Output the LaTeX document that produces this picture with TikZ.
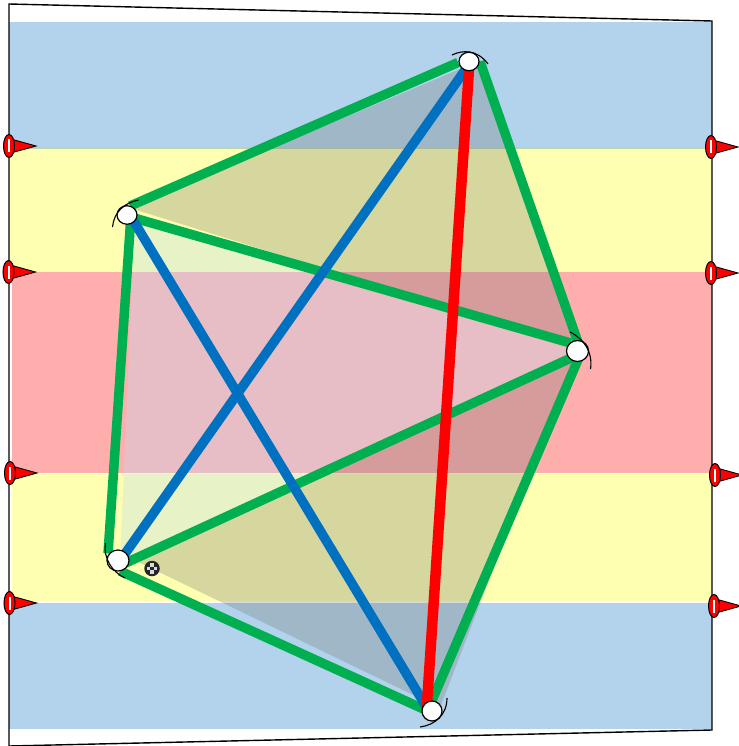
\documentclass[tikz,border=0pt]{standalone}
\usetikzlibrary{calc,shapes.geometric}
\pgfdeclarelayer{bands}
\pgfdeclarelayer{edges}
\pgfsetlayers{bands,edges,main}
\definecolor{bandblue}{RGB}{179,211,236}
\definecolor{bandyellow}{RGB}{255,255,178}
\definecolor{bandred}{RGB}{255,174,174}
\definecolor{bandline}{RGB}{186,214,172}
\definecolor{edgegreen}{RGB}{0,176,80}
\definecolor{edgeblue}{RGB}{0,112,192}
\definecolor{overdark}{RGB}{115,115,115}
\definecolor{overpale}{RGB}{189,220,240}
\tikzset{
  x=1pt,y=-1pt,
  vertexnode/.style={ellipse,draw=black,line width=1.2pt,fill=white,inner sep=0pt,minimum width=20pt,minimum height=18.5pt},
  greenedge/.style={draw=edgegreen,line width=9.5pt},
  blueedge/.style={draw=edgeblue,line width=9.5pt},
  rededge/.style={draw=red,line width=10.5pt},
  tick/.style={draw=black,line width=1.1pt},
  frameline/.style={draw=black,line width=1.4pt,line join=miter},
  darkfill/.style={fill=overdark,fill opacity=0.29},
  palefill/.style={fill=overpale,fill opacity=0.35},
  flagbase/.style={ellipse,draw=black,line width=1pt,fill=red,inner sep=0pt,minimum width=11pt,minimum height=23pt},
  flagtip/.style={draw=black,line width=0.9pt,fill=red,line join=miter},
  flagslit/.style={fill=white},
  pics/flag/.style={code={
    \path[flagtip] (0,-7.5) -- (27,0) -- (0,7.5) -- cycle;
    \node[flagbase] at (0,0) {};
    \fill[flagslit] (-1,-6.5) rectangle (1.2,6.5);
  }}
}
\begin{document}
\begin{tikzpicture}
\useasboundingbox (0,0) rectangle (738,746);

% vertices
\node[vertexnode] (top) at (469,61.5) {};
\node[vertexnode] (left) at (127,215) {};
\node[vertexnode,minimum width=22pt,minimum height=21pt] (right) at (577.5,351) {};
\node[vertexnode,minimum width=22pt,minimum height=21pt] (low) at (118,560.5) {};
\node[vertexnode,minimum height=20pt] (bottom) at (432,711) {};

\begin{pgfonlayer}{bands}
  \fill[bandblue] (9,22) rectangle (712,148);
  \fill[bandyellow] (9,148) rectangle (712,272);
  \fill[bandred] (12,272) rectangle (712,472.5);
  \fill[bandyellow] (12,474) rectangle (712,601);
  \fill[bandblue] (9,603) rectangle (712,729);
  \fill[bandline] (9,147.2) rectangle (712,149);
  % translucent faces
  \path[darkfill] ($(top)+(9,0)$) -- ($(right)+(0,-3)$) -- ($(left)+(3,-7)$) -- cycle;
  \path[palefill] ($(left)+(8,0)$) -- (right.center) -- ($(low)+(2,0)$) -- cycle;
  \path[darkfill] (right.center) -- ($(low)+(12,-2.5)$) -- ($(bottom)+(4,-5)$) -- ($(bottom)+(9,-6)$) -- cycle;
\end{pgfonlayer}

\begin{pgfonlayer}{edges}
  \path[greenedge] ($(top)+(-11,1)$) -- ($(left)+(3,-9)$);
  \path[greenedge] ($(top)+(11,0)$) -- ($(right)+(3.5,0)$);
  \path[greenedge] ($(left)+(4,0)$) -- ($(low)+(-10,-7)$);
  \path[greenedge] ($(left)+(0,1)$) -- ($(right)+(-7,-8)$);
  \path[greenedge] ($(low)+(0,6)$) -- ($(right)+(0,4)$);
  \path[greenedge] ($(low)+(2,10.5)$) -- ($(bottom)+(-2,1)$);
  \path[greenedge] ($(right)+(2.5,4)$) -- ($(bottom)+(-2,-6)$);
  \path[blueedge] ($(top)+(0,3)$) -- ($(low)+(4,-2.5)$);
  \path[blueedge] ($(left)+(3,0)$) -- ($(bottom)+(-5,-3)$);
  \path[rededge] ($(top)+(0.5,0)$) -- ($(bottom)+(-5.5,0)$);
\end{pgfonlayer}

% frame
\coordinate (ftl) at (9,4);
\coordinate (ftr) at (712,21);
\coordinate (fbr) at (712,730);
\coordinate (fbl) at (9,746);
\path[frameline] (fbl) -- (ftl) -- (ftr) -- (fbr) -- (fbl);

% tick arcs
\path[tick] (452,55) .. controls (462,50) and (477,49) .. (488,64);
\path[tick] (112.5,227) .. controls (114,212) and (124,203) .. (138.5,200);
\path[tick] (570,332) .. controls (584,339) and (593,352) .. (590.5,369);
\path[tick] (105.5,543) .. controls (103,558) and (112,572) .. (125,578);
\path[tick] (447,698) .. controls (447,715) and (435,725) .. (420,727);

% check mark
\node[circle,fill=black!85,inner sep=0pt,minimum size=15.5pt] (chk) at (152,568.5) {};
\fill[white!85!black] ($(chk)+(-1.7,-5.2)$) rectangle ($(chk)+(1.7,-1.9)$);
\fill[white!85!black] ($(chk)+(-1.7,1.9)$) rectangle ($(chk)+(1.7,5.2)$);
\fill[white!85!black] ($(chk)+(-5.2,-1.7)$) rectangle ($(chk)+(-1.9,1.7)$);
\fill[white!85!black] ($(chk)+(1.9,-1.7)$) rectangle ($(chk)+(5.2,1.7)$);

% flags
\pic at (9,146) {flag};
\pic at (8.5,272) {flag};
\pic at (10,473) {flag};
\pic at (9.5,603) {flag};
\pic at (711,147) {flag};
\pic at (711,273) {flag};
\pic at (715,475) {flag};
\pic at (714,606) {flag};
\end{tikzpicture}
\end{document}
